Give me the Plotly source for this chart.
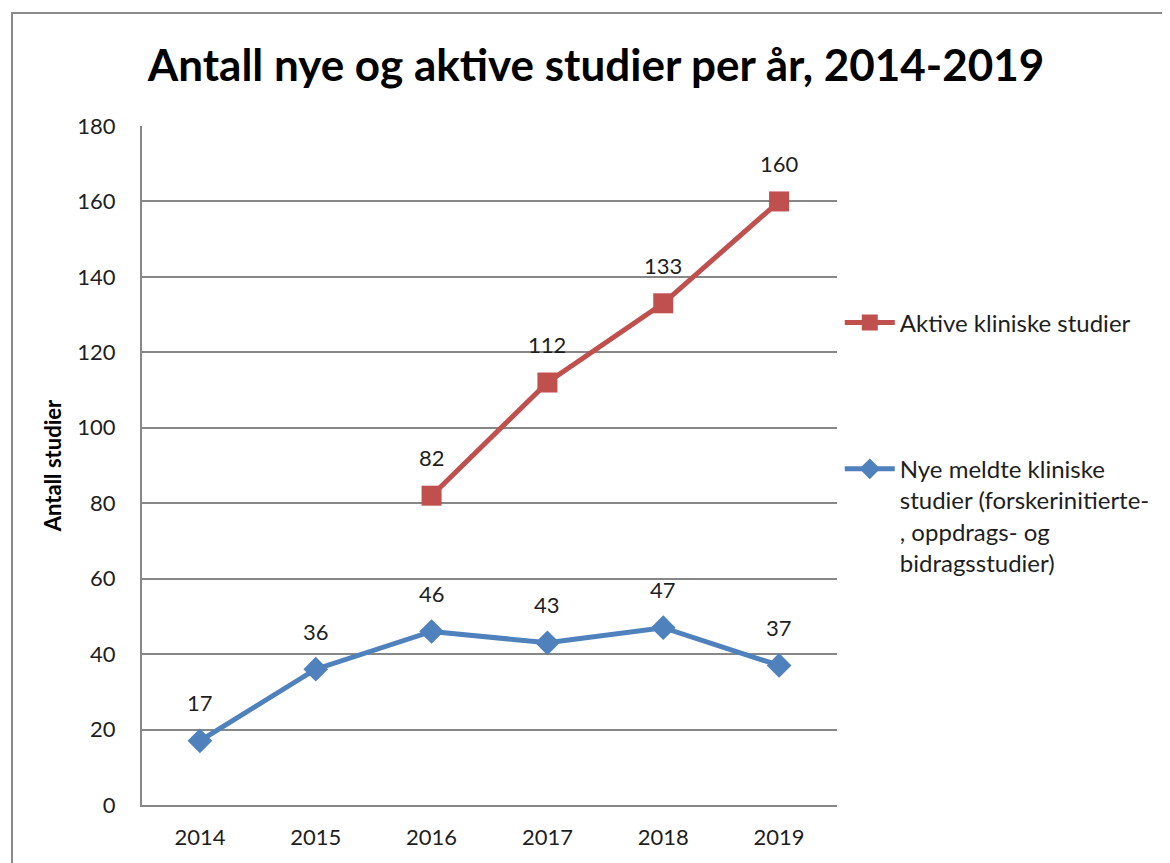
import plotly.graph_objects as go

years = ["2014", "2015", "2016", "2017", "2018", "2019"]
aktive_years = ["2016", "2017", "2018", "2019"]
aktive = [82, 112, 133, 160]
nye = [17, 36, 46, 43, 47, 37]

title = "Antall nye og aktive studier per år, 2014-2019"
y_title = "Antall studier"
name_aktive = "Aktive kliniske studier"
name_nye = "Nye meldte kliniske<br>studier (forskerinitierte-<br>, oppdrags- og<br>bidragsstudier)"

RED = "#C0504D"
BLUE = "#4F81BD"
GRID = "#878787"
FONT = "Lato"
TXT = "#1e1e1e"

# plot area (in figure pixels)
L, T, W, H = 134, 118, 695, 679

fig = go.Figure()
fig.add_trace(go.Scatter(
    x=aktive_years, y=aktive, mode="lines+markers", name=name_aktive,
    legendgroup="a", line=dict(color=RED, width=5),
    marker=dict(symbol="square", size=20, color=RED),
))
fig.add_trace(go.Scatter(
    x=years, y=nye, mode="lines+markers", name=name_nye,
    legendgroup="b", line=dict(color=BLUE, width=5),
    marker=dict(symbol="diamond", size=19, color=BLUE),
))

annotations = []
for xs, ys in ((aktive_years, aktive), (years, nye)):
    for x, y in zip(xs, ys):
        annotations.append(dict(
            x=years.index(x), y=y, text=str(y), showarrow=False, yshift=38,
            font=dict(family=FONT, size=22, color=TXT),
        ))

fig.update_layout(
    width=1170, height=863,
    margin=dict(l=L, r=1170 - L - W, t=T, b=863 - T - H),
    paper_bgcolor="white", plot_bgcolor="white",
    font=dict(family=FONT, color=TXT, size=22),
    title=dict(
        text="<b>" + title + "</b>", x=588 / 1170, xanchor="center",
        y=1 - 58 / 863, yanchor="middle", yref="container",
        font=dict(family=FONT, size=44, color="black"),
    ),
    xaxis=dict(
        type="category", categoryorder="array", categoryarray=years,
        range=[-0.5, len(years) - 0.5], automargin=False,
        showgrid=False, showline=True, linecolor=GRID, linewidth=2,
        ticks="outside", ticklen=12, tickcolor="rgba(0,0,0,0)",
        tickfont=dict(size=22, family=FONT, color=TXT), fixedrange=True,
    ),
    yaxis=dict(
        range=[0, 180], dtick=20, tick0=0, automargin=False,
        showgrid=True, gridcolor=GRID, gridwidth=2,
        showline=True, linecolor=GRID, linewidth=2,
        zeroline=False,
        ticks="outside", ticklen=20, tickcolor="rgba(0,0,0,0)",
        tickfont=dict(size=22, family=FONT, color=TXT),
        title=dict(text="<b>" + y_title + "</b>", font=dict(size=22, family=FONT, color="black"), standoff=10),
    ),
    legend=dict(
        x=1.004, xanchor="left", y=0.743, yanchor="top",
        traceorder="grouped", tracegroupgap=112, valign="top",
        font=dict(family=FONT, size=24, color=TXT),
        itemwidth=50, bgcolor="rgba(0,0,0,0)",
    ),
    annotations=annotations,
    shapes=[dict(
        type="rect", xref="paper", yref="paper",
        x0=(4 - L) / W, x1=(1185 - L) / W,
        y0=(T + H - 880) / H, y1=(T + H - 5) / H,
        line=dict(color="#8a8a8a", width=2), layer="below",
    )],
)

fig.write_html("out.html")
